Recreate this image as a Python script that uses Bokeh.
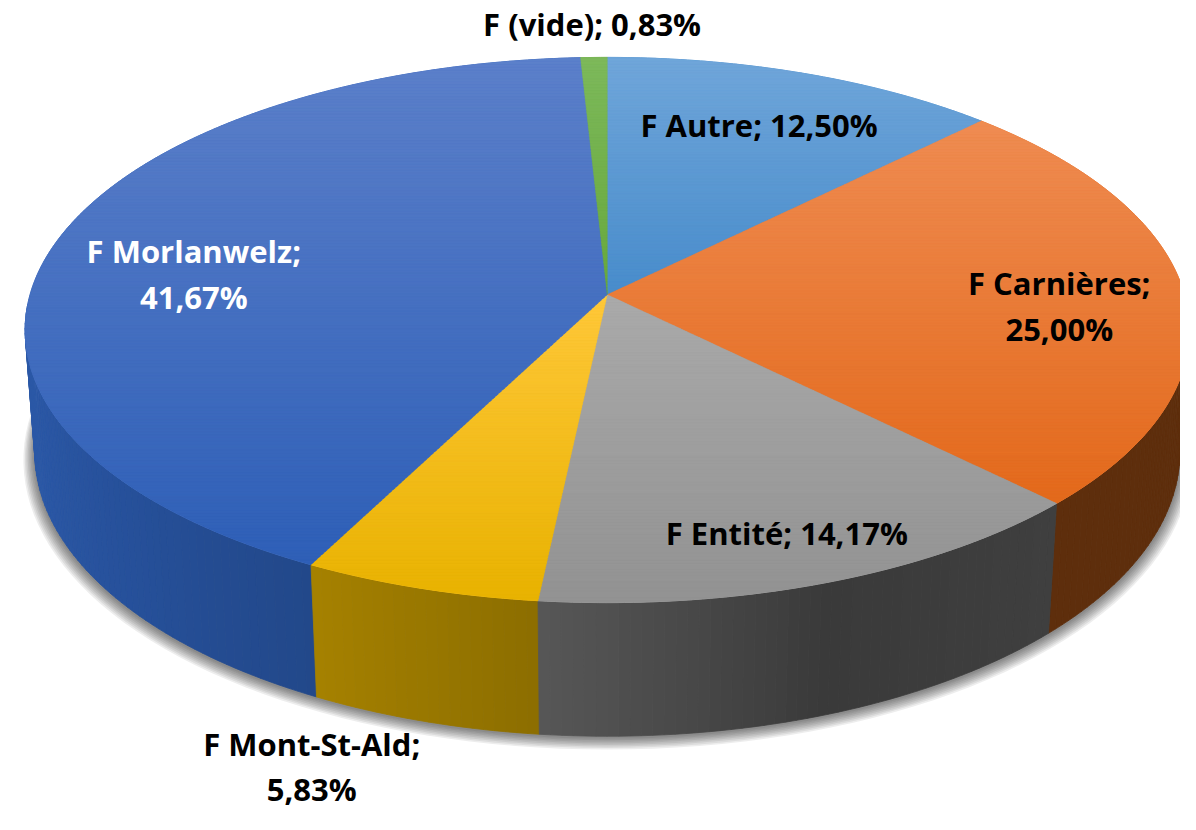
import math
from bokeh.plotting import figure
from bokeh.models import Range1d, ColumnDataSource
from bokeh.core.properties import value
from bokeh.embed import file_html
from bokeh.resources import INLINE

# ---------------- data ----------------
categories = ["F Autre", "F Carnières", "F Entité", "F Mont-St-Ald", "F Morlanwelz", "F (vide)"]
counts = [15, 30, 17, 7, 50, 1]

# ---------------- styles ----------------
top_colors = {  # (lighter top, darker bottom) of each slice's face gradient
    "F Autre": ("#70A6DA", "#488CCB"),
    "F Carnières": ("#EF8C52", "#E3691B"),
    "F Entité": ("#AAAAAA", "#929292"),
    "F Mont-St-Ald": ("#FFC83A", "#E8B200"),
    "F Morlanwelz": ("#5C80CA", "#2E5FB7"),
    "F (vide)": ("#7DB95B", "#67A83C"),
}
side_stops = {  # colour stops along each slice's rim (fraction of its span)
    "F Autre": [(0, "#2F5F8E"), (1, "#2F5F8E")],
    "F Carnières": [(0, "#5E2E0C"), (1, "#5E2E0C")],
    "F Entité": [(0, "#3F3F3F"), (0.5, "#3A3A3A"), (1, "#575757")],
    "F Mont-St-Ald": [(0, "#8C6E00"), (1, "#A68100")],
    "F Morlanwelz": [(0, "#22488A"), (0.15, "#26509A"), (0.3, "#2B58A6"), (1, "#2D5AA8")],
    "F (vide)": [(0, "#3F6B27"), (1, "#3F6B27")],
}
label_style = {  # radial fraction, nudges, colour, two lines?
    "F Autre": (0.749, 0, 2.5, "black", False),
    "F Carnières": (0.783, 0, 13, "black", True),
    "F Entité": (0.849, -3, 0, "black", False),
    "F Mont-St-Ald": (1.517, 11, -7, "black", True),
    "F Morlanwelz": (0.747, 0, 22, "white", True),
    "F (vide)": (1.157, 0, 0, "black", False),
}
TEXT_SHIFT = -12.0

# camera / 3D projection (layout)
CX, CY = 615.0, 300.0
FOC = 3996.0
ZC = 6.83
ALPHA = math.radians(27.85)
DEPTH = 0.2438
SA, CA = math.sin(ALPHA), math.cos(ALPHA)


def proj(theta_deg, r=1.0, depth=0.0):
    th = math.radians(theta_deg)
    u = r * math.sin(th)
    v = -r * math.cos(th)
    x3 = u
    y3 = -v * SA - depth * CA
    z3 = ZC - v * CA + depth * SA
    return CX + FOC * x3 / z3, CY - FOC * y3 / z3


def hex2rgb(h):
    h = h.lstrip("#")
    return tuple(int(h[i:i + 2], 16) for i in (0, 2, 4))


def mix(c1, c2, t):
    a, b = hex2rgb(c1), hex2rgb(c2)
    return "#%02x%02x%02x" % tuple(int(round(a[i] + (b[i] - a[i]) * t)) for i in range(3))


def stop_color(stops, f):
    f = min(max(f, 0.0), 1.0)
    for (f0, c0), (f1, c1) in zip(stops[:-1], stops[1:]):
        if f <= f1:
            return mix(c0, c1, (f - f0) / (f1 - f0) if f1 > f0 else 0)
    return stops[-1][1]


def clip_half(pts, yc, keep_above):
    out = []
    n = len(pts)
    for i in range(n):
        P, Q = pts[i], pts[(i + 1) % n]
        pin = P[1] >= yc if keep_above else P[1] <= yc
        qin = Q[1] >= yc if keep_above else Q[1] <= yc
        if pin:
            out.append(P)
        if pin != qin:
            t = (yc - P[1]) / (Q[1] - P[1])
            out.append((P[0] + t * (Q[0] - P[0]), yc))
    return out


total = float(sum(counts))
pcts = [100.0 * c / total for c in counts]
starts, ends = [], []
acc = 0.0
for c in counts:
    starts.append(360.0 * acc / total)
    acc += c
    ends.append(360.0 * acc / total)

p = figure(width=1180, height=814, x_range=Range1d(0, 1196), y_range=Range1d(830, 0),
           output_backend="svg", toolbar_location=None, min_border=0,
           x_axis_type=None, y_axis_type=None)
p.grid.visible = False
p.outline_line_color = None
p.background_fill_color = "white"

# ---- soft shadow under the rim ----
sh_xs, sh_ys = [], []
bottom_ring = [proj(t, 1.0, DEPTH) for t in range(0, 361, 2)]
bcx = sum(q[0] for q in bottom_ring) / len(bottom_ring)
bcy = sum(q[1] for q in bottom_ring) / len(bottom_ring)
for i in range(1, 9):
    s = 1.0 + 0.0025 * i
    sh_xs.append([bcx + (q[0] - bcx) * s for q in bottom_ring])
    sh_ys.append([bcy + (q[1] - bcy) * s + 1.0 + 0.8 * i for q in bottom_ring])
p.patches(sh_xs, sh_ys, fill_color="black", fill_alpha=0.07, line_color=None)

# ---- rim (side) ----
quads = []
for cat, a0, a1 in zip(categories, starts, ends):
    lo, hi = max(a0, 92.0), min(a1, 268.0)
    if hi <= lo:
        continue
    n = max(1, int(math.ceil((hi - lo) / 1.0)))
    for k in range(n):
        t0 = lo + (hi - lo) * k / n
        t1 = lo + (hi - lo) * (k + 1) / n
        tm = 0.5 * (t0 + t1)
        col = stop_color(side_stops[cat], (tm - a0) / (a1 - a0))
        pts = [proj(t0), proj(t1), proj(t1, 1, DEPTH), proj(t0, 1, DEPTH)]
        z = ZC + math.cos(math.radians(tm)) * CA
        quads.append((z, [q[0] for q in pts], [q[1] for q in pts], col))
quads.sort(key=lambda q: -q[0])
side_src = ColumnDataSource(dict(xs=[q[1] for q in quads], ys=[q[2] for q in quads],
                                 c=[q[3] for q in quads]))
p.patches("xs", "ys", source=side_src, fill_color="c", line_color="c", line_width=0.8)

# ---- top face ----
polys = []
for cat, a0, a1 in zip(categories, starts, ends):
    n = max(2, int(math.ceil((a1 - a0) / 0.75)))
    pts = [proj(0, 0)] + [proj(a0 + (a1 - a0) * k / n) for k in range(n + 1)]
    polys.append((cat, pts))

base_xs, base_ys, base_c = [], [], []
for cat, pts in polys:
    base_xs.append([q[0] for q in pts])
    base_ys.append([q[1] for q in pts])
    base_c.append(mix(*top_colors[cat], 0.5))
p.patches("xs", "ys", source=ColumnDataSource(dict(xs=base_xs, ys=base_ys, c=base_c)),
          fill_color="c", line_color="c", line_width=1)

bx, by, bc = [], [], []
step = 3.0
y = 50.0
while y < 630:
    for cat, pts in polys:
        ymin = min(q[1] for q in pts)
        ymax = max(q[1] for q in pts)
        if y + step < ymin or y > ymax:
            continue
        cl = clip_half(clip_half(pts, y, True), y + step, False)
        if len(cl) < 3:
            continue
        t = (y + step / 2 - ymin) / (ymax - ymin)
        bx.append([q[0] for q in cl])
        by.append([q[1] for q in cl])
        bc.append(mix(*top_colors[cat], min(max(t, 0), 1)))
    y += step
p.patches("xs", "ys", source=ColumnDataSource(dict(xs=bx, ys=by, c=bc)),
          fill_color="c", line_color="c", line_width=0.4)

# ---- labels ----
tx, ty, tt, tc = [], [], [], []
for cat, pc, a0, a1 in zip(categories, pcts, starts, ends):
    r, dx, dy, col, two = label_style[cat]
    xc, yc = proj(0.5 * (a0 + a1), r)
    xc += dx
    yc += dy + TEXT_SHIFT
    pct_txt = ("%.2f" % pc).replace(".", ",") + "%"
    if two:
        tx += [xc, xc]
        ty += [yc - 12.5, yc + 33.5]
        tt += [cat + ";", pct_txt]
        tc += [col, col]
    else:
        tx.append(xc)
        ty.append(yc + 10.5)
        tt.append(cat + "; " + pct_txt)
        tc.append(col)
p.text(x="x", y="y", text="t", source=ColumnDataSource(dict(x=tx, y=ty, t=tt, c=tc)),
       text_color="c", text_font=value("Open Sans"), text_font_style="bold",
       text_font_size="31px", text_align="center", text_baseline="alphabetic")

open("out.html", "w").write(file_html(p, INLINE))
